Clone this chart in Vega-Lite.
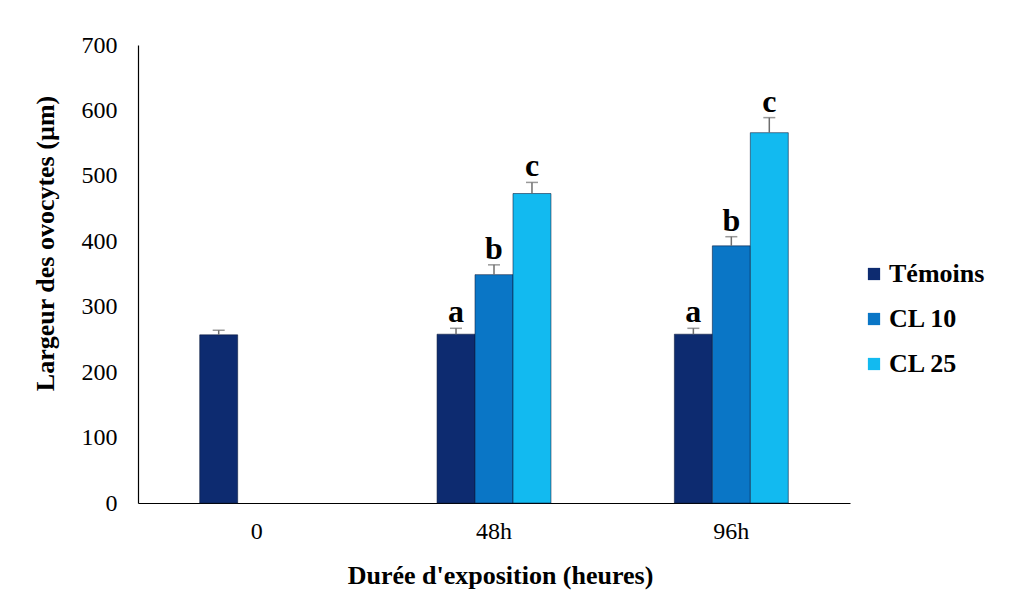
{
  "$schema": "https://vega.github.io/schema/vega-lite/v6.json",
  "autosize": {"type": "none"},
  "width": 712,
  "height": 458,
  "padding": {"left": 138, "top": 45, "right": 169, "bottom": 104},
  "background": "white",
  "config": {
    "font": "Liberation Serif",
    "view": {"stroke": null}
  },
  "data": {
    "values": [
      {"groupe": "0", "serie": "Témoins", "valeur": 257, "haut": 264, "lettre": ""},
      {"groupe": "48h", "serie": "Témoins", "valeur": 258, "haut": 267, "lettre": "a"},
      {"groupe": "48h", "serie": "CL 10", "valeur": 349, "haut": 364, "lettre": "b"},
      {"groupe": "48h", "serie": "CL 25", "valeur": 473, "haut": 490, "lettre": "c"},
      {"groupe": "96h", "serie": "Témoins", "valeur": 258, "haut": 267, "lettre": "a"},
      {"groupe": "96h", "serie": "CL 10", "valeur": 393, "haut": 407, "lettre": "b"},
      {"groupe": "96h", "serie": "CL 25", "valeur": 566, "haut": 589, "lettre": "c"}
    ]
  },
  "encoding": {
    "x": {
      "field": "groupe",
      "type": "nominal",
      "sort": ["0", "48h", "96h"],
      "scale": {"paddingInner": 0.52, "paddingOuter": 0.26},
      "axis": {
        "title": "Durée d'exposition (heures)",
        "titleFont": "Liberation Serif",
        "titleFontSize": 26,
        "titleFontWeight": "bold",
        "titleColor": "black",
        "titleX": 362,
        "titleY": 72,
        "titleBaseline": "middle",
        "labelAngle": 0,
        "labelFontSize": 24,
        "labelColor": "black",
        "labelPadding": 16,
        "ticks": false,
        "domainColor": "black",
        "domainWidth": 1.2,
        "grid": false
      }
    },
    "xOffset": {
      "field": "serie",
      "type": "nominal",
      "sort": ["Témoins", "CL 10", "CL 25"],
      "scale": {"paddingInner": 0, "paddingOuter": 0}
    }
  },
  "layer": [
    {
      "mark": {"type": "bar", "stroke": "#0a1a3a", "strokeWidth": 0.8, "strokeOpacity": 0.7},
      "encoding": {
        "y": {
          "field": "valeur",
          "type": "quantitative",
          "scale": {"domain": [0, 700], "nice": false},
          "axis": {
            "title": "Largeur des ovocytes (µm)",
            "titleFont": "Liberation Serif",
            "titleFontSize": 26,
            "titleFontWeight": "bold",
            "titleColor": "black",
            "titleAngle": -90,
            "titleX": -93,
            "titleY": 198,
            "titleAlign": "center",
            "titleBaseline": "middle",
            "values": [0, 100, 200, 300, 400, 500, 600, 700],
            "labelFontSize": 24,
            "labelColor": "black",
            "labelPadding": 21,
            "ticks": false,
            "domainColor": "black",
            "domainWidth": 1.2,
            "grid": false
          }
        },
        "color": {
          "field": "serie",
          "type": "nominal",
          "sort": ["Témoins", "CL 10", "CL 25"],
          "scale": {
            "domain": ["Témoins", "CL 10", "CL 25"],
            "range": ["#0d2b70", "#0a76c6", "#12baf0"]
          },
          "legend": {
            "title": null,
            "orient": "none",
            "legendX": 723,
            "legendY": 216,
            "symbolType": "square",
            "symbolSize": 150,
            "symbolStrokeWidth": 0,
            "labelFont": "Liberation Serif",
            "labelFontSize": 26,
            "labelFontWeight": "bold",
            "labelColor": "black",
            "labelOffset": 2,
            "rowPadding": 19
          }
        }
      }
    },
    {
      "mark": {"type": "rule", "color": "#6e6e6e", "strokeWidth": 1.5},
      "encoding": {
        "y": {"field": "valeur", "type": "quantitative"},
        "y2": {"field": "haut"}
      }
    },
    {
      "mark": {"type": "tick", "color": "#6e6e6e", "orient": "horizontal", "size": 12, "thickness": 1.5},
      "encoding": {
        "y": {"field": "haut", "type": "quantitative"}
      }
    },
    {
      "mark": {"type": "text", "font": "Liberation Serif", "fontSize": 32, "fontWeight": "bold", "color": "black", "baseline": "alphabetic", "dy": -6},
      "encoding": {
        "y": {"field": "haut", "type": "quantitative"},
        "text": {"field": "lettre"}
      }
    }
  ]
}
